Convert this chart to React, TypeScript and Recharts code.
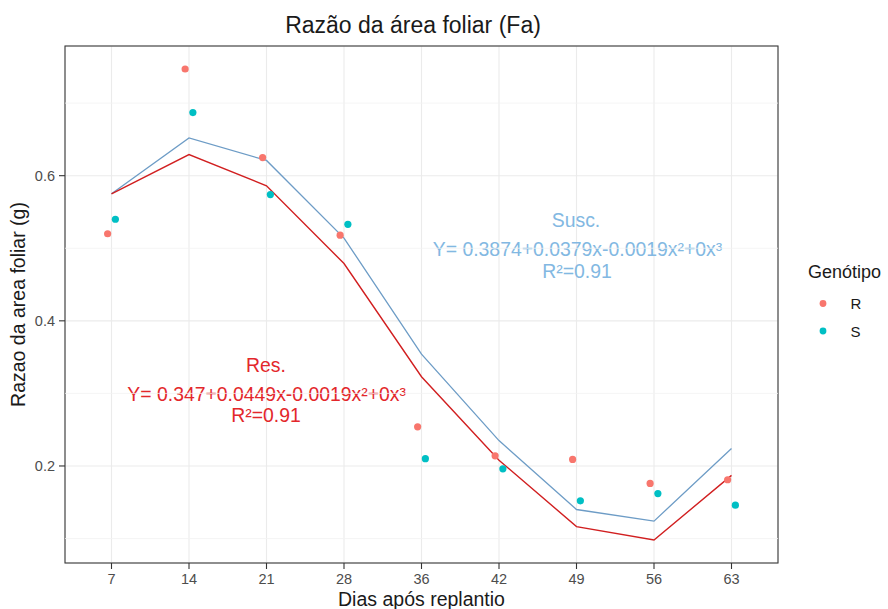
import React from 'react';
import {
  ComposedChart,
  Line,
  Scatter,
  XAxis,
  YAxis,
  CartesianGrid,
  ReferenceLine,
  Customized,
} from 'recharts';

// ---- data ----
const days = ['7', '14', '21', '28', '36', '42', '49', '56', '63'];
const resObserved = [0.52, 0.747, 0.625, 0.518, 0.254, 0.214, 0.209, 0.176, 0.181];
const susObserved = [0.54, 0.687, 0.574, 0.533, 0.21, 0.196, 0.152, 0.162, 0.146];
const resFitted = [0.575, 0.629, 0.586, 0.479, 0.323, 0.208, 0.1165, 0.098, 0.187];
const susFitted = [0.575, 0.652, 0.621, 0.514, 0.354, 0.235, 0.14, 0.124, 0.224];
const yTicks = [0.2, 0.4, 0.6];
const yMinorTicks = [0.1, 0.3, 0.5, 0.7];

const DODGE = 0.05;

const resPoints = resObserved.map((v, i) => ({ x: i - DODGE, y: v }));
const susPoints = susObserved.map((v, i) => ({ x: i + DODGE, y: v }));
const resLine = resFitted.map((v, i) => ({ x: i, y: v }));
const susLine = susFitted.map((v, i) => ({ x: i, y: v }));

const COL_R = '#F8766D';
const COL_S = '#00BFC4';
const RED_LINE = '#d11f20';
const RED_TEXT = '#e3272b';
const BLUE_LINE = '#6d9cc6';
const BLUE_TEXT = '#82b8e2';

const FONT = '"Liberation Sans", Arial, sans-serif';

const dot = (color: string) => (props: any) => (
  <circle cx={props.cx} cy={props.cy} r={3.6} fill={color} />
);

const Overlay = () => (
  <g style={{ fontFamily: FONT }}>
    <rect x={65} y={46} width={713} height={517} fill="none" stroke="#3a3a3a" strokeWidth={1.1} />
    <text x={413} y={33} textAnchor="middle" fontSize={23} fill="#1a1a1a">
      Razão da área foliar (Fa)
    </text>
    <text x={421.5} y={605.5} textAnchor="middle" fontSize={19.5} fill="#1a1a1a">
      Dias após replantio
    </text>
    <text
      x={0}
      y={0}
      transform="translate(25,304.5) rotate(-90)"
      textAnchor="middle"
      fontSize={19.5}
      fill="#1a1a1a"
    >
      Razao da area foliar (g)
    </text>
    {/* Res annotation */}
    <text x={266} y={372} textAnchor="middle" fontSize={19.4} fill={RED_TEXT}>Res.</text>
    <text x={266.7} y={400.5} textAnchor="middle" fontSize={19.4} fill={RED_TEXT}>
      Y= 0.347+0.0449x-0.0019x²+0x³
    </text>
    <text x={266} y={422} textAnchor="middle" fontSize={19.4} fill={RED_TEXT}>R²=0.91</text>
    {/* Susc annotation */}
    <text x={576} y={226.5} textAnchor="middle" fontSize={19.4} fill={BLUE_TEXT}>Susc.</text>
    <text x={577.5} y={256} textAnchor="middle" fontSize={19.4} fill={BLUE_TEXT}>
      Y= 0.3874+0.0379x-0.0019x²+0x³
    </text>
    <text x={577} y={277.5} textAnchor="middle" fontSize={19.4} fill={BLUE_TEXT}>R²=0.91</text>
    {/* Legend */}
    <text x={808} y={277.5} fontSize={18} fill="#1a1a1a">Genótipo</text>
    <circle cx={823} cy={303.5} r={3.4} fill={COL_R} />
    <text x={850.5} y={308.8} fontSize={15} fill="#1a1a1a">R</text>
    <circle cx={823} cy={331} r={3.4} fill={COL_S} />
    <text x={850.5} y={336.5} fontSize={15} fill="#1a1a1a">S</text>
  </g>
);

export default function App() {
  return (
    <div style={{ position: 'absolute', left: 0, top: 0, width: 888, height: 609, background: '#fff' }}>
      <ComposedChart
        width={888}
        height={609}
        margin={{ top: 46, right: 110, bottom: 0, left: 0 }}
        style={{ fontFamily: FONT }}
      >
        <CartesianGrid stroke="#ebebeb" strokeWidth={1.1} />
        {yMinorTicks.map((v) => (
          <ReferenceLine key={v} y={v} stroke="#f3f3f3" strokeWidth={0.8} />
        ))}
        <XAxis
          type="number"
          dataKey="x"
          domain={[-0.6, 8.6]}
          ticks={[0, 1, 2, 3, 4, 5, 6, 7, 8]}
          tickFormatter={(v: number) => days[Math.round(v)]}
          allowDataOverflow
          axisLine={false}
          tickLine={{ stroke: '#333', strokeWidth: 1.1 }}
          tickSize={6}
          tickMargin={5}
          height={46}
          tick={{ fill: '#4d4d4d', fontSize: 14.5 }}
          interval={0}
        />
        <YAxis
          type="number"
          domain={[0.0663, 0.7787]}
          ticks={yTicks}
          tickFormatter={(v: number) => v.toFixed(1)}
          allowDataOverflow
          axisLine={false}
          tickLine={{ stroke: '#333', strokeWidth: 1.1 }}
          tickSize={6}
          tickMargin={4}
          width={65}
          tick={{ fill: '#4d4d4d', fontSize: 14.5 }}
        />
        <Line
          data={susLine}
          dataKey="y"
          stroke={BLUE_LINE}
          strokeWidth={1.3}
          dot={false}
          type="linear"
          isAnimationActive={false}
        />
        <Line
          data={resLine}
          dataKey="y"
          stroke={RED_LINE}
          strokeWidth={1.4}
          dot={false}
          type="linear"
          isAnimationActive={false}
        />
        <Scatter data={resPoints} dataKey="y" shape={dot(COL_R)} isAnimationActive={false} />
        <Scatter data={susPoints} dataKey="y" shape={dot(COL_S)} isAnimationActive={false} />
        <Customized component={Overlay} />
      </ComposedChart>
    </div>
  );
}
